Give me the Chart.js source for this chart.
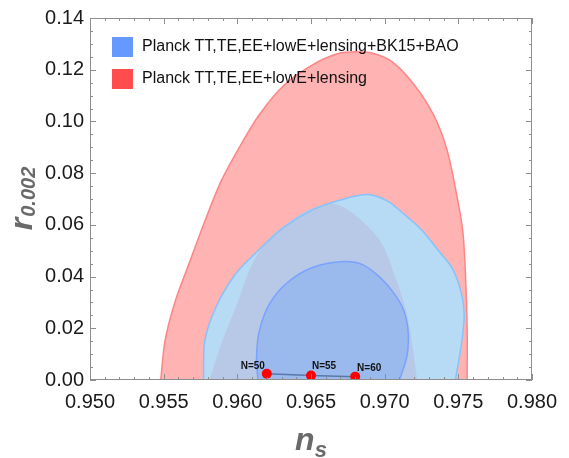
<!DOCTYPE html>
<html>
<head>
<meta charset="utf-8">
<script src="https://cdn.jsdelivr.net/npm/chart.js@4.4.1/dist/chart.umd.min.js"></script>
<style>
  html, body { margin: 0; padding: 0; background: #fff; }
  #wrap { width: 569px; height: 458px; }
</style>
</head>
<body>
<div id="wrap"><canvas id="chart" width="569" height="458"></canvas></div>
<script>
// contour outlines, walked from bottom-left over the top to bottom-right
const redOuterNs = [0.9548, 0.9551, 0.9558, 0.9568, 0.9578, 0.9589, 0.9601, 0.9615, 0.9632, 0.9651, 0.9668, 0.9681, 0.9693, 0.9705, 0.9720, 0.9733, 0.9742, 0.9748, 0.9753, 0.9755, 0.9756, 0.9756];
const redOuterR  = [0, 0.0154, 0.0308, 0.0462, 0.0615, 0.0769, 0.0896, 0.1027, 0.1142, 0.1219, 0.1262, 0.1269, 0.1262, 0.1231, 0.1142, 0.1027, 0.0896, 0.0742, 0.0577, 0.0385, 0.0192, 0];

const redInnerNs = [0.9581, 0.9590, 0.9600, 0.9609, 0.9620, 0.9636, 0.9651, 0.9666, 0.9679, 0.9697, 0.9708, 0.9715, 0.9719, 0.9722];
const redInnerR  = [0, 0.0154, 0.0296, 0.0435, 0.0538, 0.0615, 0.0665, 0.0681, 0.0642, 0.0538, 0.0385, 0.0258, 0.0127, 0];

const blueOuterNs = [0.9577, 0.9578, 0.9586, 0.9599, 0.9614, 0.9632, 0.9651, 0.9670, 0.9688, 0.9702, 0.9713, 0.9725, 0.9736, 0.9746, 0.9752, 0.9754, 0.9752, 0.9748];
const blueOuterR  = [0, 0.0154, 0.0288, 0.0412, 0.0500, 0.0592, 0.0658, 0.0696, 0.0717, 0.0692, 0.0642, 0.0581, 0.0504, 0.0431, 0.0338, 0.0250, 0.0135, 0];

const blueInnerNs = [0.9614, 0.9613, 0.9615, 0.9622, 0.9634, 0.9651, 0.9672, 0.9685, 0.9697, 0.9706, 0.9713, 0.9716, 0.9715, 0.9710];
const blueInnerR  = [0, 0.0088, 0.0192, 0.0296, 0.0377, 0.0435, 0.0458, 0.0446, 0.0396, 0.0338, 0.0269, 0.0181, 0.0088, 0];

// model predictions for e-folds
const nLabels = ['N=50', 'N=55', 'N=60'];
const nNs = [0.962, 0.965, 0.968];
const nR  = [0.0024, 0.0017, 0.0013];

const xTicks = [0.950, 0.955, 0.960, 0.965, 0.970, 0.975, 0.980];
const yTicks = [0.00, 0.02, 0.04, 0.06, 0.08, 0.10, 0.12, 0.14];

const legendItems = ['Planck TT,TE,EE+lowE+lensing+BK15+BAO', 'Planck TT,TE,EE+lowE+lensing'];

const pts = (xs, ys) => xs.map((v, i) => ({ x: v, y: ys[i] }));
const FONT = "'Liberation Sans', Arial, sans-serif";

// frame with inward ticks on all four sides (Mathematica style)
const framePlugin = {
    id: 'frame',
    afterDatasetsDraw(chart) {
        const { ctx, chartArea: a, scales: { x, y } } = chart;
        ctx.save();
        ctx.strokeStyle = '#8e8e8e';
        ctx.lineWidth = 1;
        ctx.strokeRect(a.left + 0.5, a.top + 0.5, a.right - a.left - 1, a.bottom - a.top - 1);
        ctx.beginPath();
        for (let i = 0; i <= 30; i++) {
            const px = Math.round(x.getPixelForValue(xTicks[0] + i * 0.001)) + 0.5;
            const len = i % 5 === 0 ? 6 : 3;
            ctx.moveTo(px, a.bottom); ctx.lineTo(px, a.bottom - len);
            ctx.moveTo(px, a.top); ctx.lineTo(px, a.top + len);
        }
        for (let i = 0; i <= 28; i++) {
            const py = Math.round(y.getPixelForValue(i * 0.005)) + 0.5;
            const len = i % 4 === 0 ? 6 : 3;
            ctx.moveTo(a.left, py); ctx.lineTo(a.left + len, py);
            ctx.moveTo(a.right, py); ctx.lineTo(a.right - len, py);
        }
        ctx.stroke();
        ctx.restore();
    }
};

// N=.. labels next to the red dots
const labelOffsets = [[-14, -8], [13, -9], [14, -8]];
const pointLabels = {
    id: 'pointLabels',
    afterDatasetsDraw(chart) {
        const { ctx, scales: { x, y } } = chart;
        ctx.save();
        ctx.font = 'bold 10px ' + FONT;
        ctx.fillStyle = '#111';
        ctx.textAlign = 'center';
        ctx.textBaseline = 'middle';
        nLabels.forEach((t, i) => {
            ctx.fillText(t, x.getPixelForValue(nNs[i]) + labelOffsets[i][0], y.getPixelForValue(nR[i]) + labelOffsets[i][1]);
        });
        ctx.restore();
    }
};

const legendBox = {
    id: 'legendBox',
    afterDraw(chart) {
        const { ctx, chartArea: a } = chart;
        const colors = ['#6699ff', '#ff4d4d'];
        ctx.save();
        ctx.font = '16px ' + FONT;
        ctx.textBaseline = 'middle';
        legendItems.forEach((t, i) => {
            const top = a.top + 19 + i * 32;
            ctx.fillStyle = colors[i];
            ctx.fillRect(a.left + 22, top, 21, 20);
            ctx.fillStyle = '#111';
            ctx.fillText(t, a.left + 52, top + 10);
        });
        ctx.restore();
    }
};

// italic bold axis titles with subscripts
const axisTitles = {
    id: 'axisTitles',
    afterDraw(chart) {
        const { ctx, chartArea: a } = chart;
        ctx.save();
        ctx.fillStyle = '#6a6a6a';
        ctx.textBaseline = 'alphabetic';

        ctx.font = 'italic bold 32px ' + FONT;
        const wn = ctx.measureText('n').width;
        ctx.font = 'italic bold 22px ' + FONT;
        const ws = ctx.measureText('s').width;
        let x0 = (a.left + a.right) / 2 - (wn + ws) / 2;
        ctx.font = 'italic bold 32px ' + FONT;
        ctx.fillText('n', x0, 450);
        ctx.font = 'italic bold 22px ' + FONT;
        ctx.fillText('s', x0 + wn, 457);

        ctx.translate(32, (a.top + a.bottom) / 2);
        ctx.rotate(-Math.PI / 2);
        ctx.font = 'italic bold 32px ' + FONT;
        const wr = ctx.measureText('r').width;
        ctx.font = 'italic bold 20px ' + FONT;
        const wsub = ctx.measureText('0.002').width;
        x0 = -(wr + wsub) / 2;
        ctx.font = 'italic bold 32px ' + FONT;
        ctx.fillText('r', x0, 0);
        ctx.font = 'italic bold 20px ' + FONT;
        ctx.fillText('0.002', x0 + wr + 1, 3);
        ctx.restore();
    }
};

const contour = (data, bg, border, bw, order) => ({
    data, order,
    showLine: true,
    fill: bg ? 'shape' : false,
    backgroundColor: bg || 'rgba(0,0,0,0)',
    borderColor: border,
    borderWidth: bw,
    pointRadius: 0,
    tension: 0.3
});

new Chart(document.getElementById('chart'), {
    type: 'scatter',
    data: {
        datasets: [
            {
                data: pts(nNs, nR), order: 0,
                showLine: true, fill: false,
                borderColor: '#5a78a8', borderWidth: 1.5,
                pointRadius: 5, pointBackgroundColor: '#ff0000', pointBorderWidth: 0
            },
            contour(pts(blueInnerNs, blueInnerR), '#9ab9ed', '#7aa2ff', 1.5, 1),
            // outline of the blue 95% region stays visible above the red 68% patch
            contour(pts(blueOuterNs, blueOuterR), null, '#85c3fb', 1.5, 2),
            contour(pts(redInnerNs, redInnerR), '#b8c9e8', 'rgba(0,0,0,0)', 0, 3),
            contour(pts(blueOuterNs, blueOuterR), '#b7daf5', 'rgba(0,0,0,0)', 0, 4),
            contour(pts(redOuterNs, redOuterR), '#ffb3b3', '#ff8585', 1.5, 5)
        ]
    },
    options: {
        responsive: false,
        animation: false,
        layout: { padding: { top: 16, right: 37, left: 0, bottom: 0 } },
        plugins: { legend: { display: false }, tooltip: { enabled: false } },
        scales: {
            x: {
                type: 'linear', min: 0.95, max: 0.98,
                afterFit: s => { s.height = 78; },
                afterBuildTicks: s => { s.ticks = xTicks.map(v => ({ value: v })); },
                grid: { display: false, drawTicks: false },
                border: { display: false },
                ticks: {
                    autoSkip: false, maxRotation: 0, padding: 10,
                    color: '#1a1a1a', font: { family: FONT, size: 20 },
                    callback: v => v.toFixed(3)
                }
            },
            y: {
                type: 'linear', min: 0, max: 0.14,
                afterFit: s => { s.width = 90; },
                afterBuildTicks: s => { s.ticks = yTicks.map(v => ({ value: v })); },
                grid: { display: false, drawTicks: false },
                border: { display: false },
                ticks: {
                    autoSkip: false, padding: 6,
                    color: '#1a1a1a', font: { family: FONT, size: 20 },
                    callback: v => v.toFixed(2)
                }
            }
        }
    },
    plugins: [framePlugin, pointLabels, legendBox, axisTitles]
});
</script>
</body>
</html>
